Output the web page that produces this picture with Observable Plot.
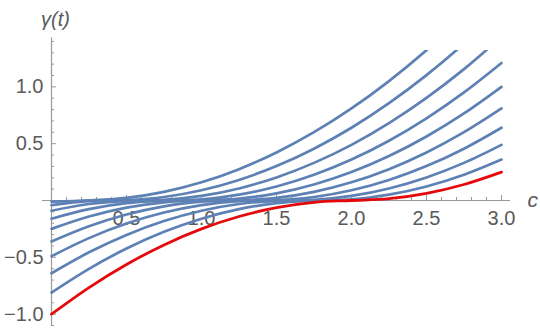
<!DOCTYPE html>
<html>
<head>
<meta charset="utf-8">
<script src="https://cdn.jsdelivr.net/npm/d3@7"></script>
<script src="https://cdn.jsdelivr.net/npm/@observablehq/plot@0.6"></script>
<style>
  html, body { margin: 0; padding: 0; background: #fff; }
</style>
</head>
<body>
<div id="chart"></div>
<script>
// x samples (c)
const xs = [0, 0.25, 0.5, 0.75, 1, 1.25, 1.5, 1.75, 2, 2.25, 2.5, 2.75, 3];
// blue family (top to bottom at x = 0)
const blue1 = [-0.01, 0.001, 0.023, 0.076, 0.16, 0.276, 0.423, 0.601, 0.81, 1.051, 1.323, 1.626, 1.96];
const blue2 = [-0.04, -0.006, 0.003, 0.031, 0.09, 0.181, 0.303, 0.456, 0.64, 0.856, 1.103, 1.381, 1.69];
const blue3 = [-0.09, -0.031, -0.003, 0.006, 0.04, 0.106, 0.203, 0.331, 0.49, 0.681, 0.903, 1.156, 1.44];
const blue4 = [-0.16, -0.076, -0.023, -0.001, 0.01, 0.051, 0.123, 0.226, 0.36, 0.526, 0.723, 0.951, 1.21];
const blue5 = [-0.25, -0.141, -0.063, -0.016, 0, 0.016, 0.063, 0.141, 0.25, 0.391, 0.563, 0.766, 1.0];
const blue6 = [-0.36, -0.226, -0.123, -0.051, -0.01, 0.001, 0.023, 0.076, 0.16, 0.276, 0.423, 0.601, 0.81];
const blue7 = [-0.49, -0.331, -0.203, -0.106, -0.04, -0.006, 0.003, 0.031, 0.09, 0.181, 0.303, 0.456, 0.64];
const blue8 = [-0.64, -0.456, -0.303, -0.181, -0.09, -0.031, -0.003, 0.006, 0.04, 0.106, 0.203, 0.331, 0.49];
const blue9 = [-0.81, -0.601, -0.423, -0.276, -0.16, -0.076, -0.023, -0.001, 0.01, 0.051, 0.123, 0.226, 0.36];
// highlighted curve
const red = [-1.0, -0.766, -0.563, -0.391, -0.25, -0.141, -0.063, -0.016, 0, 0.016, 0.063, 0.141, 0.25];

// axes / ticks
const xTickLabels = ["0.5", "1.0", "1.5", "2.0", "2.5", "3.0"];
const yTickLabels = ["−1.0", "−0.5", "0.5", "1.0"];
const xMajor = [0.5, 1.0, 1.5, 2.0, 2.5, 3.0];
const yMajor = [-1.0, -0.5, 0.5, 1.0];
const xMinor = d3.range(1, 31).map(d => d / 10).filter(d => Math.abs(d * 2 - Math.round(d * 2)) > 1e-9);
const yMinor = d3.range(-11, 15).map(d => d / 10).filter(d => Math.abs(d * 2 - Math.round(d * 2)) > 1e-9);
const xDomain = [-0.06, 3.06];
const yDomain = [-1.1, 1.32];
const yAxisTop = 1.43;

const blues = [blue1, blue2, blue3, blue4, blue5, blue6, blue7, blue8, blue9];
const blueRows = blues.flatMap((ys, k) => xs.map((x, i) => ({x, y: ys[i], k})));
const redRows = xs.map((x, i) => ({x, y: red[i]}));

const blueColor = "#5e81b5";
const axisColor = "#9a9a9a";
const labelColor = "#5a5a5a";
const font = "'Liberation Sans', Arial, sans-serif";

const chart = Plot.plot({
  width: 540,
  height: 330,
  marginLeft: 42,
  marginRight: 30,
  marginTop: 50,
  marginBottom: 5,
  style: {background: "#fff", fontFamily: font},
  x: {domain: xDomain, axis: null},
  y: {domain: yDomain, axis: null},
  marks: [
    // axis lines
    Plot.ruleY([0], {x1: xDomain[0], x2: xDomain[1], stroke: axisColor, strokeWidth: 1.2}),
    Plot.ruleX([0], {y1: yDomain[0], y2: yAxisTop, stroke: axisColor, strokeWidth: 1.2}),
    // x ticks (upward)
    Plot.ruleX(xMajor, {x: d => d, y1: 0, y2: 0, insetTop: -5, stroke: axisColor}),
    Plot.ruleX(xMinor, {x: d => d, y1: 0, y2: 0, insetTop: -3, stroke: axisColor}),
    // y ticks (rightward)
    Plot.ruleY(yMajor, {y: d => d, x1: 0, x2: 0, insetRight: -5, stroke: axisColor}),
    Plot.ruleY(yMinor, {y: d => d, x1: 0, x2: 0, insetRight: -3, stroke: axisColor}),
    // tick labels
    Plot.text(xMajor, {x: d => d, y: 0, text: (d, i) => xTickLabels[i], lineAnchor: "top", dy: 10, fontSize: 20, fill: labelColor}),
    Plot.text(yMajor, {x: 0, y: d => d, text: (d, i) => yTickLabels[i], textAnchor: "end", dx: -8, fontSize: 20, fill: labelColor}),
    // axis titles
    Plot.text(["c"], {x: xDomain[1], y: 0, textAnchor: "start", dx: 17, dy: 0, fontSize: 21, fontStyle: "italic", fill: labelColor}),
    Plot.text(["γ(t)"], {x: 0, y: yAxisTop, lineAnchor: "bottom", dx: 4, dy: -12, fontSize: 20, fontStyle: "italic", fill: labelColor}),
    // curves
    Plot.line(blueRows, {x: "x", y: "y", z: "k", stroke: blueColor, strokeWidth: 2.7, curve: "monotone-x", clip: true}),
    Plot.line(redRows, {x: "x", y: "y", stroke: "#e5090c", strokeWidth: 2.8, curve: "monotone-x", clip: true})
  ]
});
document.getElementById("chart").appendChild(chart);
</script>
</body>
</html>
